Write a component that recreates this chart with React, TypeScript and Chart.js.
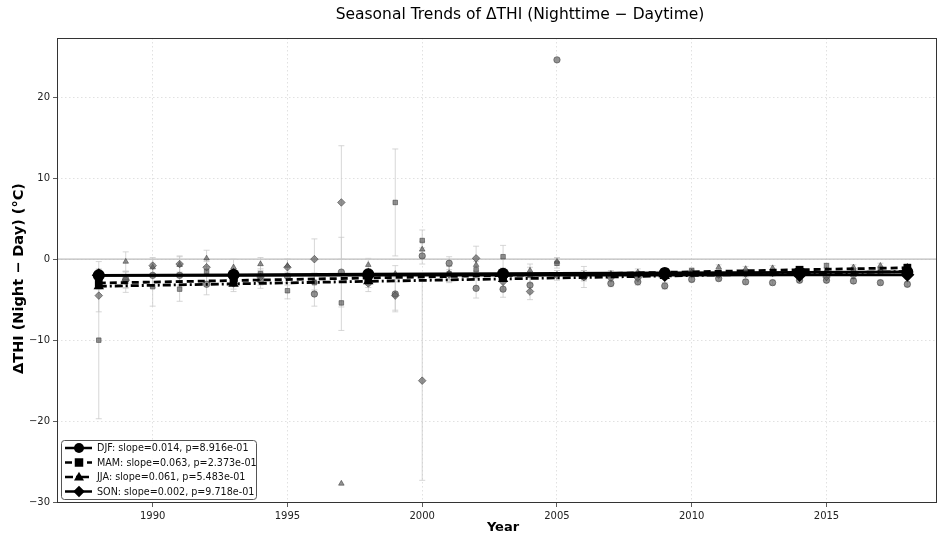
import React, { useEffect, useRef } from "react";
import { Chart, registerables } from "chart.js";
Chart.register(...registerables);

const YEARS = [1988, 1989, 1990, 1991, 1992, 1993, 1994, 1995, 1996, 1997, 1998, 1999, 2000, 2001, 2002, 2003, 2004, 2005, 2006, 2007, 2008, 2009, 2010, 2011, 2012, 2013, 2014, 2015, 2016, 2017, 2018];

const DJF = [-2.5, -2.5, -2.0, -2.0, -3.1, -2.7, -2.6, -2.1, -4.3, -1.6, -2.2, -4.3, 0.4, -0.5, -3.6, -3.7, -3.2, 24.6, -2.2, -3.0, -2.8, -3.3, -2.5, -2.4, -2.8, -2.9, -2.6, -2.6, -2.7, -2.9, -3.1];
const MAM = [-10.0, -2.8, -3.4, -3.7, -1.5, -2.2, -1.8, -3.9, -2.9, -5.4, -2.5, 7.0, 2.3, -1.8, -1.3, 0.3, -2.0, -0.5, -2.0, -2.0, -1.9, -2.1, -1.4, -1.7, -1.6, -1.5, -1.8, -0.8, -1.5, -1.3, -1.5];
const JJA = [-2.2, -0.3, -1.0, -0.7, 0.1, -1.0, -0.6, -0.8, -2.8, -27.7, -0.7, -1.8, 1.2, -1.7, -0.7, -2.0, -1.4, -0.3, -1.9, -1.8, -1.6, -1.6, -1.6, -1.0, -1.2, -1.1, -1.3, -1.4, -1.0, -0.8, -0.9];
const SON = [-4.5, -2.6, -0.8, -0.6, -1.0, -3.0, -2.2, -1.0, 0.0, 7.0, -3.0, -4.5, -15.0, -1.9, 0.1, -2.8, -4.0, -2.0, -2.2, -2.3, -2.3, -2.0, -1.8, -1.9, -1.8, -1.7, -2.0, -2.2, -2.0, -1.6, -1.8];

const DJF_ERR = [1.2, 1.0, 1.5, 1.2, 1.3, 1.0, 1.0, 1.1, 1.5, 4.3, 1.0, 2.0, 1.0, 0.8, 1.2, 1.0, 1.0, 0.0, 0.5, 0.4, 0.4, 0.4, 0.3, 0.3, 0.3, 0.3, 0.3, 0.3, 0.3, 0.3, 0.3];
const MAM_ERR = [9.7, 1.3, 2.4, 1.5, 1.2, 1.0, 1.0, 1.0, 1.2, 3.4, 1.0, 6.6, 1.3, 1.0, 1.0, 1.4, 1.0, 0.6, 0.6, 0.4, 0.4, 0.4, 0.3, 0.3, 0.3, 0.3, 0.3, 0.3, 0.3, 0.3, 0.3];
const JJA_ERR = [1.0, 1.2, 1.0, 1.0, 1.0, 1.0, 0.8, 0.8, 1.0, 0.0, 0.8, 1.0, 1.0, 0.8, 0.8, 0.8, 0.8, 0.5, 0.5, 0.4, 0.4, 0.4, 0.3, 0.3, 0.3, 0.3, 0.3, 0.3, 0.3, 0.3, 0.3];
const SON_ERR = [2.0, 1.0, 1.0, 1.0, 1.0, 1.0, 1.0, 1.0, 2.5, 7.0, 1.0, 2.0, 12.3, 1.0, 1.5, 1.0, 1.0, 0.6, 1.3, 0.5, 0.5, 0.5, 0.4, 0.4, 0.4, 0.4, 0.4, 0.4, 0.4, 0.4, 0.4];

const TREND_YEARS = [1988, 1993, 1998, 2003, 2009, 2014, 2018];
const DJF_TREND = [-2.0, -1.93, -1.86, -1.79, -1.71, -1.64, -1.58];
const MAM_TREND = [-2.95, -2.64, -2.32, -2.01, -1.63, -1.31, -1.06];
const JJA_TREND = [-3.35, -3.05, -2.74, -2.44, -2.07, -1.77, -1.52];
const SON_TREND = [-2.0, -1.99, -1.98, -1.97, -1.96, -1.95, -1.94];

const X_TICKS = [1990, 1995, 2000, 2005, 2010, 2015];
const Y_TICKS = [-30, -20, -10, 0, 10, 20];

const LEGEND_LABELS = [
  "DJF: slope=0.014, p=8.916e-01",
  "MAM: slope=0.063, p=2.373e-01",
  "JJA: slope=0.061, p=5.483e-01",
  "SON: slope=0.002, p=9.718e-01",
];
const TITLE = "Seasonal Trends of \u0394THI (Nighttime \u2212 Daytime)";
const X_TITLE = "Year";
const Y_TITLE = "\u0394THI (Night \u2212 Day) (\u00b0C)";

const FONT = "'DejaVu Sans', sans-serif";
const STYLES = ["circle", "rect", "triangle", "rectRot"];
const DASHES = [[], [7, 4], [8, 3, 2, 3], []];

function drawMarker(ctx: CanvasRenderingContext2D, style: string, x: number, y: number, r: number) {
  ctx.beginPath();
  if (style === "circle") {
    ctx.arc(x, y, r, 0, Math.PI * 2);
  } else if (style === "rect") {
    ctx.rect(x - r * 0.85, y - r * 0.85, r * 1.7, r * 1.7);
  } else if (style === "triangle") {
    ctx.moveTo(x, y - r * 1.05);
    ctx.lineTo(x + r, y + r * 0.7);
    ctx.lineTo(x - r, y + r * 0.7);
    ctx.closePath();
  } else {
    ctx.moveTo(x, y - r * 1.15);
    ctx.lineTo(x + r * 1.15, y);
    ctx.lineTo(x, y + r * 1.15);
    ctx.lineTo(x - r * 1.15, y);
    ctx.closePath();
  }
  ctx.fill();
}

const decorPlugin = {
  id: "decor",
  beforeDatasetsDraw(chart: any) {
    const { ctx, chartArea, scales } = chart;
    const xs = scales.x, ys = scales.y;
    ctx.save();
    ctx.strokeStyle = "#bcbcbc";
    ctx.lineWidth = 1.2;
    ctx.beginPath();
    const y0 = ys.getPixelForValue(0);
    ctx.moveTo(chartArea.left, y0);
    ctx.lineTo(chartArea.right, y0);
    ctx.stroke();
    const vals = [DJF, MAM, JJA, SON];
    const errs = [DJF_ERR, MAM_ERR, JJA_ERR, SON_ERR];
    ctx.strokeStyle = "rgba(200,200,200,0.75)";
    ctx.lineWidth = 1;
    for (let s = 0; s < 4; s++) {
      for (let i = 0; i < YEARS.length; i++) {
        const e = errs[s][i];
        if (!e) continue;
        const px = xs.getPixelForValue(YEARS[i]);
        const top = ys.getPixelForValue(vals[s][i] + e);
        const bot = ys.getPixelForValue(vals[s][i] - e);
        ctx.beginPath();
        ctx.moveTo(px, top);
        ctx.lineTo(px, bot);
        ctx.moveTo(px - 3, top);
        ctx.lineTo(px + 3, top);
        ctx.moveTo(px - 3, bot);
        ctx.lineTo(px + 3, bot);
        ctx.stroke();
      }
    }
    ctx.restore();
  },
  afterDraw(chart: any) {
    const { ctx, chartArea } = chart;
    ctx.save();
    ctx.strokeStyle = "#333";
    ctx.lineWidth = 1;
    ctx.strokeRect(chartArea.left + 0.5, chartArea.top + 0.5, chartArea.right - chartArea.left - 1, chartArea.bottom - chartArea.top - 1);
    ctx.fillStyle = "#000";
    ctx.textAlign = "center";
    ctx.textBaseline = "middle";
    ctx.font = `15.5px ${FONT}`;
    ctx.fillText(TITLE, 520, 15);
    ctx.font = `bold 13px ${FONT}`;
    ctx.fillText(X_TITLE, (chartArea.left + chartArea.right) / 2 + 6, 528);
    ctx.save();
    ctx.translate(19, (chartArea.top + chartArea.bottom) / 2 + 8);
    ctx.rotate(-Math.PI / 2);
    ctx.font = `bold 14.5px ${FONT}`;
    ctx.fillText(Y_TITLE, 0, 0);
    ctx.restore();
    const bx = 61, by = 440, bw = 195, bh = 59;
    ctx.fillStyle = "rgba(255,255,255,0.85)";
    ctx.strokeStyle = "#555";
    ctx.lineWidth = 1;
    ctx.beginPath();
    (ctx as any).roundRect(bx + 0.5, by + 0.5, bw, bh, 3);
    ctx.fill();
    ctx.stroke();
    for (let k = 0; k < 4; k++) {
      const cy = by + 8 + k * 14.5;
      ctx.strokeStyle = "#000";
      ctx.fillStyle = "#000";
      ctx.lineWidth = 2.5;
      ctx.setLineDash(DASHES[k]);
      ctx.beginPath();
      ctx.moveTo(bx + 4, cy);
      ctx.lineTo(bx + 31, cy);
      ctx.stroke();
      ctx.setLineDash([]);
      drawMarker(ctx, STYLES[k], bx + 18, cy, 5);
      ctx.font = `9.6px ${FONT}`;
      ctx.textAlign = "left";
      ctx.textBaseline = "middle";
      ctx.fillStyle = "#111";
      ctx.fillText(LEGEND_LABELS[k], bx + 36, cy + 0.5);
    }
    ctx.restore();
  },
};

export default function App() {
  const ref = useRef<HTMLCanvasElement | null>(null);
  useEffect(() => {
    document.body.style.margin = "0";
    const canvas = ref.current;
    if (!canvas) return;
    const seasonVals = [DJF, MAM, JJA, SON];
    const trends = [DJF_TREND, MAM_TREND, JJA_TREND, SON_TREND];
    const datasets: any[] = [];
    for (let s = 0; s < 4; s++) {
      datasets.push({
        type: "line",
        data: TREND_YEARS.map((x, i) => ({ x, y: trends[s][i] })),
        borderColor: "#000",
        backgroundColor: "#000",
        borderWidth: 2.8,
        borderDash: DASHES[s],
        pointStyle: STYLES[s],
        pointRadius: s === 1 ? 5.5 : s === 3 ? 7 : 6,
        pointBorderWidth: 0,
        pointBackgroundColor: "#000",
        fill: false,
        tension: 0,
        order: 4 - s,
      });
    }
    for (let s = 0; s < 4; s++) {
      datasets.push({
        type: "scatter",
        data: YEARS.map((x, i) => ({ x, y: seasonVals[s][i] })),
        pointStyle: STYLES[s],
        pointRadius: s === 3 ? 3.8 : 3.2,
        backgroundColor: "rgba(95,95,95,0.68)",
        borderColor: "rgba(60,60,60,0.7)",
        borderWidth: 0.8,
        order: 10 + (4 - s),
      });
    }
    const gridOpts = {
      color: "rgba(0,0,0,0.15)",
      tickBorderDash: [],
      tickColor: "#333",
      tickLength: 4,
      lineWidth: 0.8,
    };
    const chart = new Chart(canvas, {
      type: "scatter",
      data: { datasets },
      options: {
        animation: false,
        responsive: false,
        devicePixelRatio: 1,
        layout: { padding: { top: 38, right: 3, left: 0, bottom: 0 } },
        plugins: { legend: { display: false }, tooltip: { enabled: false }, title: { display: false } },
        scales: {
          x: {
            type: "linear",
            min: 1986.45,
            max: 2019.1,
            afterBuildTicks: (sc: any) => { sc.ticks = X_TICKS.map((v) => ({ value: v })); },
            afterFit: (sc: any) => { sc.height = 34; },
            ticks: {
              callback: (v: any) => String(v),
              font: { family: FONT, size: 10 },
              color: "#222",
              padding: 3,
              maxRotation: 0,
            },
            grid: gridOpts,
            border: { display: false, dash: [1.5, 2.5] },
          },
          y: {
            type: "linear",
            min: -30.1,
            max: 27.3,
            afterBuildTicks: (sc: any) => { sc.ticks = Y_TICKS.map((v) => ({ value: v })); },
            afterFit: (sc: any) => { sc.width = 57; },
            ticks: {
              callback: (v: any) => (v < 0 ? "\u2212" + Math.abs(v) : String(v)),
              font: { family: FONT, size: 10 },
              color: "#222",
              padding: 3,
            },
            grid: gridOpts,
            border: { display: false, dash: [1.5, 2.5] },
          },
        },
      } as any,
      plugins: [decorPlugin],
    });
    return () => chart.destroy();
  }, []);
  return (
    <div style={{ width: 944, height: 537, position: "relative", background: "#fff" }}>
      <canvas ref={ref} width={944} height={537} style={{ width: 944, height: 537, display: "block" }} />
    </div>
  );
}
